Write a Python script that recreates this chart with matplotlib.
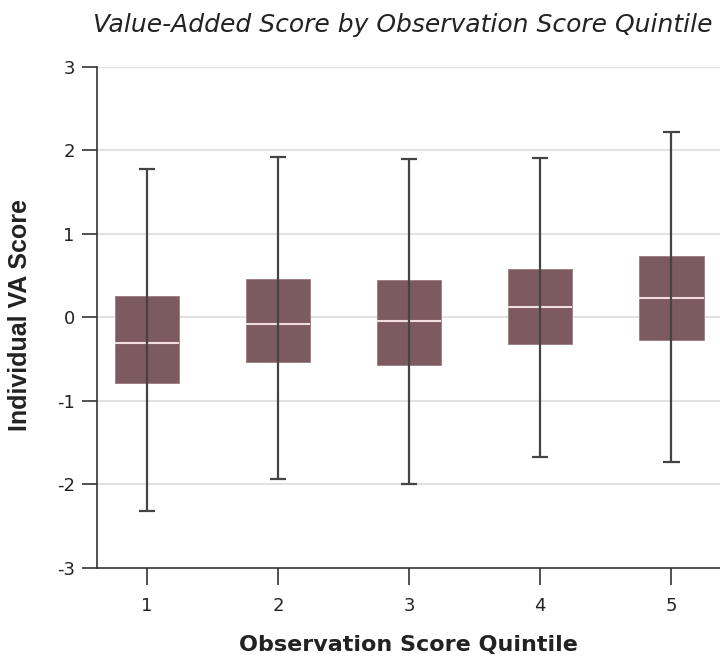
import matplotlib
matplotlib.use("Agg")
import matplotlib.pyplot as plt

plt.rcParams["axes.unicode_minus"] = False

# Box summary per observation-score quintile
quintiles = [1, 2, 3, 4, 5]
whisker_low = [-2.32, -1.93, -1.99, -1.67, -1.73]
q1 = [-0.78, -0.53, -0.57, -0.32, -0.27]
median = [-0.31, -0.08, -0.04, 0.13, 0.23]
q3 = [0.26, 0.46, 0.45, 0.58, 0.74]
whisker_high = [1.78, 1.92, 1.90, 1.91, 2.22]
y_ticks = [-3, -2, -1, 0, 1, 2, 3]

box_color = "#7d5a60"
line_color = "#444444"

fig = plt.figure(figsize=(7.2, 6.58), dpi=100)
ax = fig.add_axes([0.1347, 0.1368, 0.8653, 0.7614])

for y in y_ticks[1:]:
    ax.axhline(y, color="#e2e2e2", lw=1.5, zorder=0)

heights = [h - l for h, l in zip(q3, q1)]
ax.bar(quintiles, heights, bottom=q1, width=0.49, color=box_color,
       edgecolor="#9a7c81", linewidth=0.6, zorder=2)
ax.hlines(median, [x - 0.245 for x in quintiles], [x + 0.245 for x in quintiles],
          color="#f1dcdf", lw=1.5, zorder=3)
ax.vlines(quintiles, whisker_low, whisker_high, color=line_color, lw=1.6, zorder=4)
cap = 0.062
ax.hlines(whisker_low, [x - cap for x in quintiles], [x + cap for x in quintiles],
          color=line_color, lw=1.6, zorder=4)
ax.hlines(whisker_high, [x - cap for x in quintiles], [x + cap for x in quintiles],
          color=line_color, lw=1.6, zorder=4)

ax.set_xlim(0.62, 5.37)
ax.set_ylim(-3, 3)
ax.set_yticks(y_ticks)
ax.set_xticks(quintiles)
ax.set_xticklabels([str(q) for q in quintiles])
ax.spines["top"].set_visible(False)
ax.spines["right"].set_visible(False)
for s in ("left", "bottom"):
    ax.spines[s].set_color("#333333")
    ax.spines[s].set_linewidth(1.2)
ax.tick_params(axis="y", length=11, width=1.2, color="#333333", pad=5,
               labelsize=13, labelcolor="#222222")
ax.tick_params(axis="x", length=12, width=1.2, color="#333333", pad=9,
               labelsize=13, labelcolor="#222222")

fig.text(0.129, 0.962, "Value-Added Score by Observation Score Quintile",
         ha="left", va="center", fontsize=18, style="italic", color="#222222")
fig.text(0.567, 0.02, "Observation Score Quintile", ha="center", va="center",
         fontsize=16, fontweight="semibold", color="#222222")
fig.text(0.028, 0.522, "Individual VA Score", ha="center", va="center",
         rotation=90, fontsize=18, fontweight="bold", family="Liberation Sans",
         color="#222222")

fig.savefig("out.png", dpi=100)
